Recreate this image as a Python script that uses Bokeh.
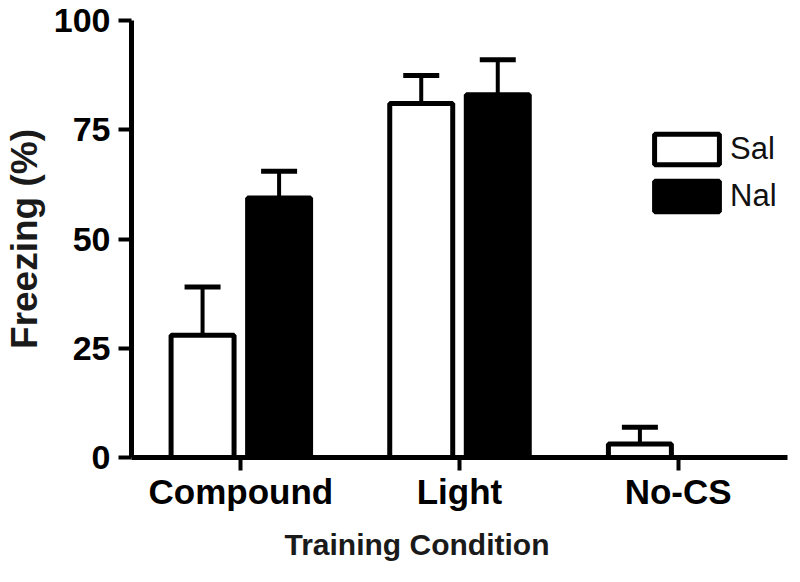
from bokeh.plotting import figure
from bokeh.models import (ColumnDataSource, FactorRange, Range1d, Whisker, TeeHead,
                          Legend, LegendItem, FixedTicker, Title)
from bokeh.transform import dodge
from bokeh.embed import file_html
from bokeh.resources import INLINE

# ---- data ----
categories = ["Compound", "Light", "No-CS"]
sal_mean = [28, 81, 3.1]
sal_upper = [39, 87.4, 6.9]
nal_mean = [59.4, 83, 0]
nal_upper = [65.5, 91, 0]
y_ticks = [0, 25, 50, 75, 100]

src = ColumnDataSource(data=dict(cat=categories, sal=sal_mean, sal_up=sal_upper,
                                 nal=nal_mean, nal_up=nal_upper))

FONT = "Liberation Sans"

p = figure(x_range=FactorRange(*categories, range_padding=0), y_range=Range1d(0, 100),
           frame_width=656, frame_height=437,
           min_border_left=127, min_border_top=20, min_border_right=1, min_border_bottom=109,
           output_backend="svg", toolbar_location=None)

off = 0.175
bw = 0.288
r_sal = p.vbar(x=dodge("cat", -off, range=p.x_range), top="sal", bottom=0, width=bw,
               source=src, fill_color="white", line_color="black", line_width=5)
r_nal = p.vbar(x=dodge("cat", off, range=p.x_range), top="nal", bottom=0, width=bw,
               source=src, fill_color="black", line_color="black", line_width=5)

for o, lo, up in [(-off, "sal", "sal_up"), (off, "nal", "nal_up")]:
    w = Whisker(source=src, base=dodge("cat", o, range=p.x_range), lower=lo, upper=up,
                dimension="height", lower_head=None,
                upper_head=TeeHead(size=36, line_width=5, line_color="black"),
                line_width=4, line_color="black", level="underlay")
    p.add_layout(w)

legend = Legend(items=[LegendItem(label="Sal", renderers=[r_sal]),
                       LegendItem(label="Nal", renderers=[r_nal])],
                location=(515, 242), glyph_width=81, glyph_height=38, spacing=9,
                label_standoff=3, label_text_font_size="31px", label_text_font=FONT,
                label_text_color="#111111",
                padding=0, margin=0, border_line_alpha=0, background_fill_alpha=0)
p.add_layout(legend)

p.outline_line_color = None
p.xgrid.grid_line_color = None
p.ygrid.grid_line_color = None

p.yaxis.ticker = FixedTicker(ticks=y_ticks)
p.yaxis.minor_tick_line_color = None
for ax in [p.xaxis[0], p.yaxis[0]]:
    ax.axis_line_width = 5
    ax.axis_line_color = "black"
    ax.major_tick_line_width = 4
    ax.major_tick_line_color = "black"
    ax.major_tick_in = 0
    ax.major_tick_out = 13
    ax.major_label_text_font = FONT
    ax.major_label_text_font_style = "bold"
    ax.major_label_text_font_size = "34px"
    ax.major_label_text_color = "black"
    ax.axis_label_text_font = FONT
    ax.axis_label_text_font_style = "bold"
    ax.axis_label_text_color = "#1a1a1a"

p.xaxis.major_label_standoff = 1
p.xaxis.major_label_text_font_size = "35px"

# x-axis title, placed left of the frame centre as in the reference
p.add_layout(Title(text="Training Condition", align="left", offset=153,
                   text_font=FONT, text_font_style="bold", text_font_size="30px",
                   text_color="#1a1a1a", standoff=24), "below")

p.yaxis.major_label_standoff = 8
p.yaxis.axis_label = "Freezing (%)"
p.yaxis.axis_label_text_font_size = "37px"
p.yaxis.axis_label_standoff = 6

open("out.html", "w").write(file_html(p, INLINE))
